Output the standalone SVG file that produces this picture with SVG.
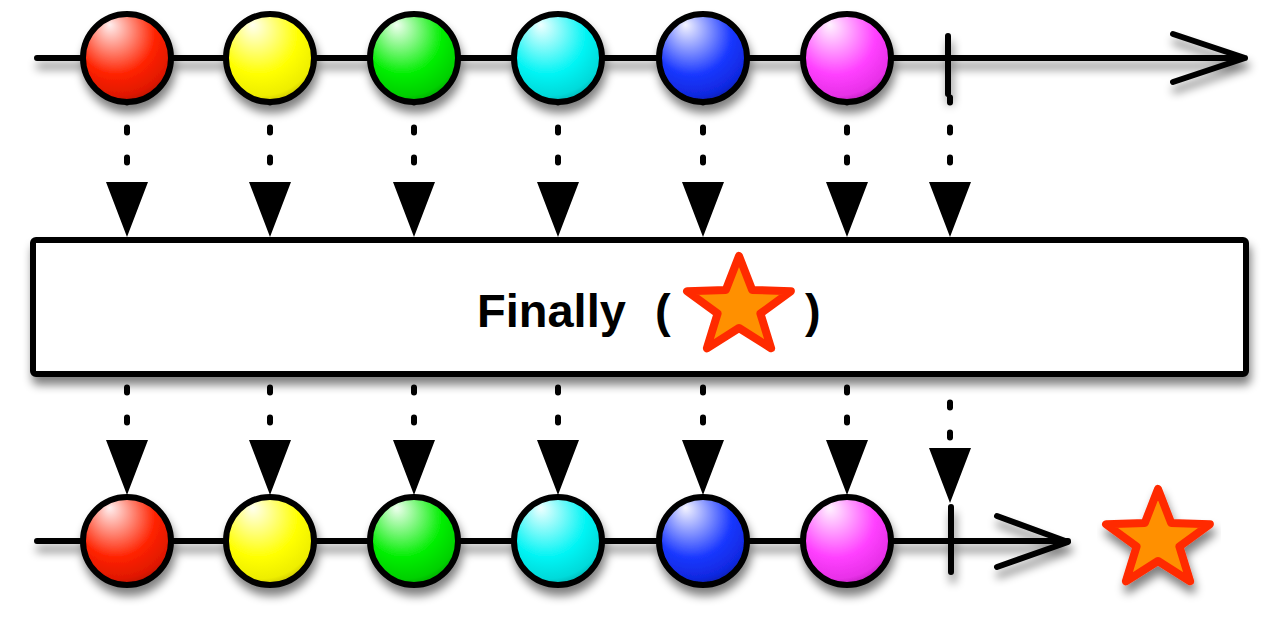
<svg xmlns="http://www.w3.org/2000/svg" width="1280" height="620" viewBox="0 0 1280 620">
<style>
.ln{fill:none;stroke:#000;stroke-width:6;stroke-linecap:round;stroke-linejoin:round}
.dot{fill:none;stroke:#000;stroke-width:6;stroke-linecap:round;stroke-dasharray:5 25}
.tri{fill:#000}
.ball{stroke:#000;stroke-width:6}
.star{fill:#ff9000;stroke:#ff2a00;stroke-width:8;stroke-linejoin:round}
.lbl{font-family:"Liberation Sans",Arial,sans-serif;font-weight:bold;font-size:47px;fill:#000}
</style>
<defs>
<filter id="sh" x="-10%" y="-20%" width="120%" height="160%">
<feGaussianBlur in="SourceAlpha" stdDeviation="5"/>
<feOffset dx="2" dy="8" result="b"/>
<feComponentTransfer><feFuncA type="linear" slope="0.5"/></feComponentTransfer>
<feMerge><feMergeNode/><feMergeNode in="SourceGraphic"/></feMerge>
</filter>
<radialGradient id="gr" cx="0.42" cy="0.32" r="0.75" fx="0.3" fy="0.12"><stop offset="0" stop-color="#fff0f0"/><stop offset="0.6" stop-color="#ff2200"/><stop offset="0.85" stop-color="#e01800"/><stop offset="1" stop-color="#a00800"/></radialGradient>
<radialGradient id="gy" cx="0.42" cy="0.32" r="0.75" fx="0.3" fy="0.12"><stop offset="0" stop-color="#fffff0"/><stop offset="0.6" stop-color="#ffff00"/><stop offset="0.85" stop-color="#eeee00"/><stop offset="1" stop-color="#b0a800"/></radialGradient>
<radialGradient id="gg" cx="0.42" cy="0.32" r="0.75" fx="0.3" fy="0.12"><stop offset="0" stop-color="#f0fff0"/><stop offset="0.6" stop-color="#00ee00"/><stop offset="0.85" stop-color="#00d000"/><stop offset="1" stop-color="#009000"/></radialGradient>
<radialGradient id="gc" cx="0.42" cy="0.32" r="0.75" fx="0.3" fy="0.12"><stop offset="0" stop-color="#f0ffff"/><stop offset="0.6" stop-color="#00f4f4"/><stop offset="0.85" stop-color="#00dada"/><stop offset="1" stop-color="#009a9a"/></radialGradient>
<radialGradient id="gb" cx="0.42" cy="0.32" r="0.75" fx="0.3" fy="0.12"><stop offset="0" stop-color="#f4f4ff"/><stop offset="0.6" stop-color="#1a38ff"/><stop offset="0.85" stop-color="#1028e0"/><stop offset="1" stop-color="#081890"/></radialGradient>
<radialGradient id="gm" cx="0.42" cy="0.32" r="0.75" fx="0.3" fy="0.12"><stop offset="0" stop-color="#fff4ff"/><stop offset="0.6" stop-color="#ff40ff"/><stop offset="0.85" stop-color="#e830e8"/><stop offset="1" stop-color="#a018a0"/></radialGradient>
<polygon id="st" class="star" points="0,-51 13.2,-17 51.9,-15.8 21.4,6.5 32.1,41.3 0,21 -32.1,41.3 -21.4,6.5 -51.9,-15.8 -13.2,-17"/>
</defs>
<rect width="1280" height="620" fill="#fff"/>
<g id="connectors">
<g id="top-drops">
<path class="dot" d="M127 97.5V170M270 97.5V170M414 97.5V170M558 97.5V170M703 97.5V170M847 97.5V170M950 97.5V170"/>
<path class="tri" d="M106 182h42l-21 55zM249 182h42l-21 55zM393 182h42l-21 55zM537 182h42l-21 55zM682 182h42l-21 55zM826 182h42l-21 55zM929 182h42l-21 55z"/>
</g>
<g id="bottom-drops">
<path class="dot" d="M127 387.5V430M270 387.5V430M414 387.5V430M558 387.5V430M703 387.5V430M847 387.5V430M950 402.5V440"/>
<path class="tri" d="M106 440h42l-21 55zM249 440h42l-21 55zM393 440h42l-21 55zM537 440h42l-21 55zM682 440h42l-21 55zM826 440h42l-21 55zM929 448h42l-21 55z"/>
</g>
</g>
<g id="top-timeline" filter="url(#sh)">
<path class="ln" d="M37 58H1245M1173 34L1245 58L1173 82M948 36V94"/>
<circle class="ball" cx="127" cy="58" r="44" fill="url(#gr)"/>
<circle class="ball" cx="270" cy="58" r="44" fill="url(#gy)"/>
<circle class="ball" cx="414" cy="58" r="44" fill="url(#gg)"/>
<circle class="ball" cx="558" cy="58" r="44" fill="url(#gc)"/>
<circle class="ball" cx="703" cy="58" r="44" fill="url(#gb)"/>
<circle class="ball" cx="847" cy="58" r="44" fill="url(#gm)"/>
</g>
<g id="operator">
<rect x="33" y="240" width="1213" height="134" rx="3" fill="#fff" stroke="#000" stroke-width="6" filter="url(#sh)"/>
<text class="lbl" x="477" y="327">Finally</text>
<text class="lbl" x="655" y="327">(</text>
<text class="lbl" x="805" y="327">)</text>
<use href="#st" x="739" y="307"/>
</g>
<g id="bottom-timeline" filter="url(#sh)">
<path class="ln" d="M37 541H1068M997 516L1068 542L997 567M951 507V572"/>
<circle class="ball" cx="127" cy="541" r="44" fill="url(#gr)"/>
<circle class="ball" cx="270" cy="541" r="44" fill="url(#gy)"/>
<circle class="ball" cx="414" cy="541" r="44" fill="url(#gg)"/>
<circle class="ball" cx="558" cy="541" r="44" fill="url(#gc)"/>
<circle class="ball" cx="703" cy="541" r="44" fill="url(#gb)"/>
<circle class="ball" cx="847" cy="541" r="44" fill="url(#gm)"/>
</g>
<g id="final-star" filter="url(#sh)">
<use href="#st" x="1158" y="540"/>
</g>
</svg>
